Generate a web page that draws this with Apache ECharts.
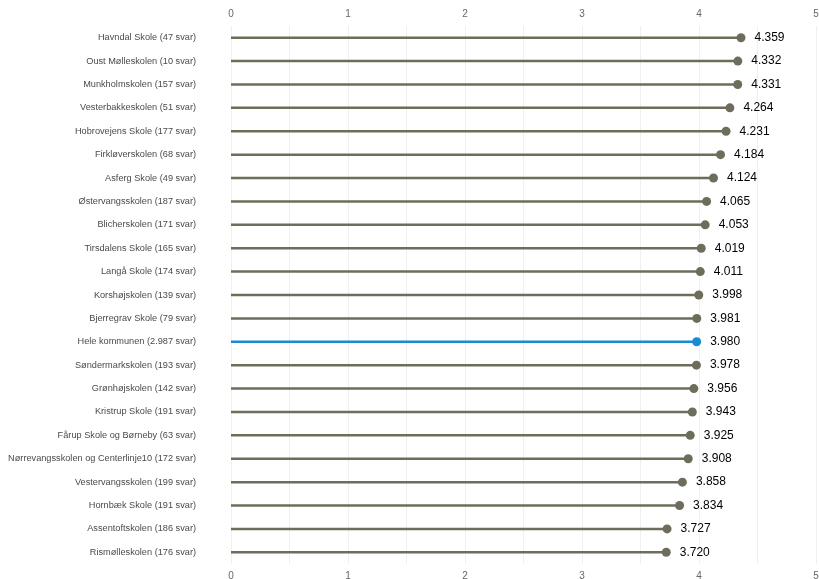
<!DOCTYPE html>
<html><head><meta charset="utf-8">
<script src="https://cdn.jsdelivr.net/npm/echarts@6/dist/echarts.min.js"></script>
<style>html,body{margin:0;padding:0;background:#fff}#c{width:819px;height:579px}</style>
</head><body><div id="c"></div>
<script>
var categories = ["Havndal Skole (47 svar)","Oust Mølleskolen (10 svar)","Munkholmskolen (157 svar)","Vesterbakkeskolen (51 svar)","Hobrovejens Skole (177 svar)","Firkløverskolen (68 svar)","Asferg Skole (49 svar)","Østervangsskolen (187 svar)","Blicherskolen (171 svar)","Tirsdalens Skole (165 svar)","Langå Skole (174 svar)","Korshøjskolen (139 svar)","Bjerregrav Skole (79 svar)","Hele kommunen (2.987 svar)","Søndermarkskolen (193 svar)","Grønhøjskolen (142 svar)","Kristrup Skole (191 svar)","Fårup Skole og Børneby (63 svar)","Nørrevangsskolen og Centerlinje10 (172 svar)","Vestervangsskolen (199 svar)","Hornbæk Skole (191 svar)","Assentoftskolen (186 svar)","Rismølleskolen (176 svar)"];
var values = [4.359,4.332,4.331,4.264,4.231,4.184,4.124,4.065,4.053,4.019,4.011,3.998,3.981,3.980,3.978,3.956,3.943,3.925,3.908,3.858,3.834,3.727,3.720];
var highlight = "Hele kommunen (2.987 svar)";
var xTicks = [0,1,2,3,4,5];

var base = '#6e6c5a', hi = '#1a8ad4';
var data = values.map(function(v,i){
  var c = categories[i]===highlight ? hi : base;
  return {value:v, itemStyle:{color:c, opacity:1}};
});
var chart = echarts.init(document.getElementById('c'));
var xAxisCommon = {
  type:'value', min:0, max:5, interval:0.5,
  axisLine:{show:false}, axisTick:{show:false},
  axisLabel:{color:'#666', fontSize:10, fontFamily:'Liberation Sans, Arial', margin:7,
    formatter:function(v){return xTicks.indexOf(v)>=0 ? String(v) : '';}},
  splitLine:{show:true, lineStyle:{color:'#f0f0f0', width:1}}
};
chart.setOption({
  animation:false,
  grid:{left:231, right:3, top:26, bottom:15, containLabel:false, outerBoundsMode:'none'},
  xAxis:[
    Object.assign({position:'top'}, xAxisCommon),
    Object.assign({position:'bottom'}, xAxisCommon)
  ],
  yAxis:{type:'category', data:categories, inverse:true,
    axisLine:{show:false}, axisTick:{show:false}, splitLine:{show:false},
    axisLabel:{color:'#4a4a4a', fontSize:9.2, fontFamily:'Liberation Sans, Arial', margin:35}},
  series:[
    {type:'bar', xAxisIndex:0, data:data, barWidth:2.5, silent:true},
    {type:'scatter', xAxisIndex:0, data:data, symbolSize:9, itemStyle:{opacity:1},
      label:{show:true, position:'right', distance:9, color:'#000', fontSize:12,
        fontFamily:'Liberation Sans, Arial',
        formatter:function(p){return p.value.toFixed(3);}}}
  ]
});
</script></body></html>
